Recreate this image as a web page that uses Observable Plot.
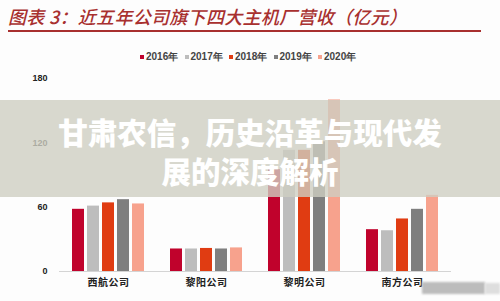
<!DOCTYPE html>
<html>
<head>
<meta charset="utf-8">
<script src="https://cdn.jsdelivr.net/npm/d3@7"></script>
<script src="https://cdn.jsdelivr.net/npm/@observablehq/plot@0.6"></script>
<style>
  html, body { margin: 0; padding: 0; background: #fdfdfd; }
  #wrap { position: relative; width: 500px; height: 301px; overflow: hidden; background: #fdfdfd; }
  #title { position: absolute; left: 8px; top: 3px; font-family: "Noto Sans CJK SC", sans-serif; font-size: 18px; font-style: italic; font-weight: 500; color: #a8302f; white-space: nowrap; letter-spacing: 0.3px; }
  #rule { position: absolute; left: 8px; top: 30px; width: 473px; height: 1.5px; background: #a8302f; }
  #legend { position: absolute; left: 140px; top: 51px; height: 12px; display: flex; font-family: "Liberation Sans", Arial, sans-serif; font-size: 10px; font-weight: bold; color: #444; line-height: 12px; }
  #legend .item { width: 44.5px; display: flex; align-items: center; white-space: nowrap; }
  #legend .sw { width: 4px; height: 4px; margin-right: 2px; display: inline-block; }
  #chart { position: absolute; left: 0; top: 66px; }
  #banner { position: absolute; left: 0; top: 100px; width: 500px; height: 97px; background: rgba(206,206,194,0.8); color: #fff; font-family: "Noto Sans CJK SC", sans-serif; font-weight: 900; font-size: 29.5px; line-height: 39px; text-align: center; padding-top: 12px; box-sizing: border-box; }
  #wm1 { position: absolute; left: 422px; top: 282px; width: 63px; height: 12px; background: #bcbcbc; filter: blur(1px); }
  #wm2 { position: absolute; left: 485px; top: 283px; width: 15px; height: 11px; background: #dedede; filter: blur(1px); }
  g[aria-label="fx-axis tick label"] text, g[aria-label^="fx-axis"] text { font-family: "Noto Sans CJK SC", serif; font-size: 10px; font-weight: 700; letter-spacing: 0.5px; fill: #222; }
  g[aria-label^="y-axis"] text { font-family: "Liberation Sans", Arial, sans-serif; font-size: 9px; font-weight: bold; fill: #222; }
</style>
</head>
<body>
<div id="wrap">
  <div id="title">图表 3：近五年公司旗下四大主机厂营收（亿元）</div>
  <div id="rule"></div>
  <div id="legend"></div>
  <div id="chart"></div>
  <div id="banner">甘肃农信，历史沿革与现代发<br>展的深度解析</div>
  <div id="wm1"></div>
  <div id="wm2"></div>
</div>
<script>
const categories = ["西航公司", "黎阳公司", "黎明公司", "南方公司"];
const years = ["2016年", "2017年", "2018年", "2019年", "2020年"];
const v2016 = [58, 21, 95, 39];
const v2017 = [61, 21, 113, 38];
const v2018 = [64, 21.5, 113, 49];
const v2019 = [67, 21, 121, 58];
const v2020 = [63, 22, 160, 71];
const colors = ["#c0022c", "#bdbdbd", "#e03c12", "#7f7f7f", "#f7a28d"];
const yTicks = [0, 60, 120, 180];

const series = [v2016, v2017, v2018, v2019, v2020];
const data = [];
categories.forEach((c, i) => {
  years.forEach((y, j) => data.push({cat: c, year: y, value: series[j][i]}));
});

const legend = document.getElementById("legend");
years.forEach((y, j) => {
  const it = document.createElement("span");
  it.className = "item";
  const sw = document.createElement("span");
  sw.className = "sw";
  sw.style.background = colors[j];
  it.appendChild(sw);
  it.appendChild(document.createTextNode(y));
  legend.appendChild(it);
});

const chart = Plot.plot({
  width: 500,
  height: 235,
  marginTop: 12,
  marginBottom: 30,
  marginLeft: 57,
  marginRight: 48,
  style: {background: "transparent", fontFamily: "Liberation Sans, Arial, sans-serif"},
  fx: {domain: categories, padding: 0, label: null, tickSize: 0, tickPadding: 7, axis: "bottom"},
  x: {domain: years, paddingInner: 0.213, paddingOuter: 0.844, axis: null},
  y: {domain: [0, 180], ticks: yTicks, tickSize: 0, tickPadding: 12, label: null},
  color: {domain: years, range: colors},
  marks: [
    Plot.ruleY([0], {stroke: "#d4d4d4", strokeWidth: 1}),
    Plot.barY(data, {fx: "cat", x: "year", y: "value", fill: "year"})
  ]
});
document.getElementById("chart").appendChild(chart);
</script>
</body>
</html>
